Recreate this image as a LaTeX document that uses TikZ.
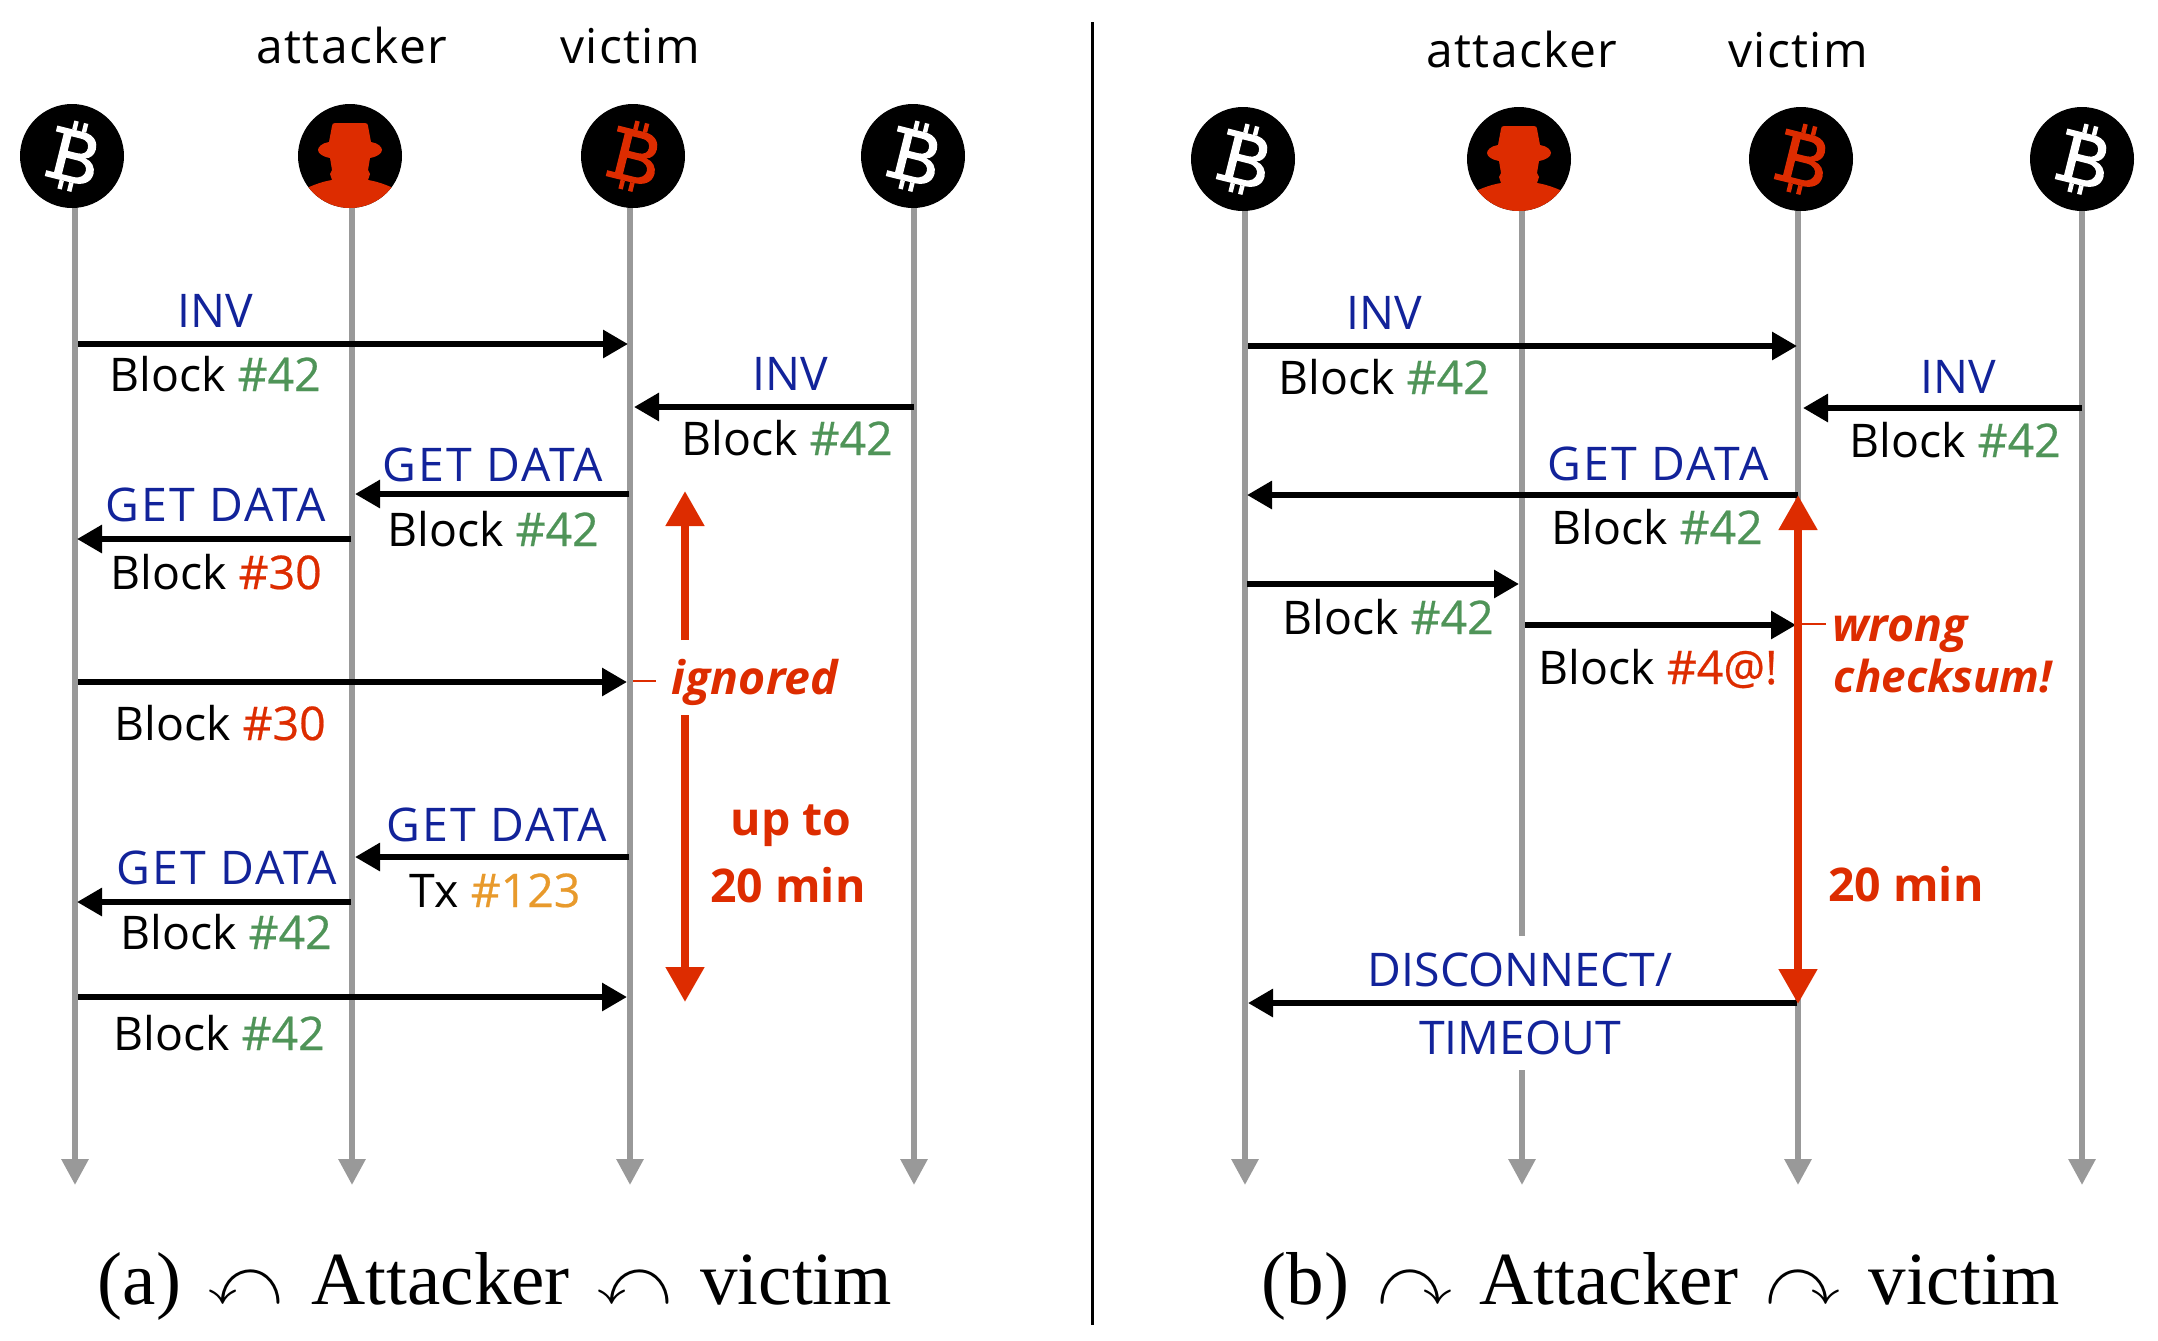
\documentclass[tikz,border=0pt]{standalone}
\usepackage{amssymb}
\usepackage{fontspec}
\setmainfont{Open Sans}
\newfontfamily\capfont{Liberation Serif}
\newfontfamily\hashfont[FakeBold=0.5]{Open Sans}
\newfontfamily\widefont[LetterSpace=4.5]{Open Sans}
\newfontfamily\headfont[LetterSpace=3]{Open Sans}
\usetikzlibrary{arrows.meta}
\definecolor{myblue}{HTML}{12239A}
\definecolor{mygreen}{HTML}{4F9458}
\definecolor{myred}{HTML}{DD2C00}
\definecolor{myorange}{HTML}{E89A2C}
\definecolor{mygray}{HTML}{999999}
\newcommand{\bl}[1]{\textcolor{myblue}{#1}}
\newcommand{\gd}{\textcolor{myblue}{\widefont GET DATA}}
\newcommand{\gr}[1]{\textcolor{mygreen}{\hashfont #1}}
\newcommand{\rd}[1]{\textcolor{myred}{\hashfont #1}}
\newcommand{\og}[1]{\textcolor{myorange}{\hashfont #1}}
\newcommand{\gapb}{\hspace{4.5pt}}
\tikzset{
  x=0.5pt,y=-0.5pt,
  lbl/.style={inner sep=0pt,font=\fontsize{23.2}{26}\selectfont,text height=16pt,text depth=0pt},
  headlbl/.style={lbl,font=\fontsize{24}{26}\selectfont\headfont},
  redlbl/.style={lbl,text=myred,font=\fontsize{23.2}{26}\selectfont\bfseries},
  redit/.style={lbl,text=myred,font=\fontsize{23.2}{26}\selectfont\bfseries\itshape},
  captext/.style={inner sep=0pt,font=\fontsize{37.5}{42}\selectfont\capfont},
  peer/.style={circle,fill=black,minimum size=52pt,inner sep=0pt},
  life/.style={mygray,line width=3pt,-{Triangle[length=13pt,width=13pt]}},
  lifeplain/.style={mygray,line width=3pt},
  msg/.style={black,line width=3pt,-{Triangle[length=12.5pt,width=13.5pt]}},
  spanarrow/.style={myred,line width=4pt,-{Triangle[length=17.5pt,width=18.5pt]}},
  ticklet/.style={myred,line width=1pt},
  pics/btc/.style={code={
    \begin{scope}[xscale=0.9]
    \fill[#1,even odd rule]
      (-24,-26) -- (6,-26) .. controls (20,-26) and (24,-18) .. (24,-12)
      .. controls (24,-6) and (20,-2) .. (15,-1)
      .. controls (23,0) and (28,6) .. (28,12)
      .. controls (28,21) and (20,26) .. (8,26)
      -- (-24,26) -- (-24,20) -- (-15,20) -- (-15,-20) -- (-24,-20) -- cycle
      (-6,-19) -- (5,-19) .. controls (13,-19) and (15,-15) .. (15,-11)
      .. controls (15,-7) and (12,-4) .. (5,-4) -- (-6,-4) -- cycle
      (-6,3) -- (7,3) .. controls (16,3) and (19,8) .. (19,11)
      .. controls (19,16) and (15,20) .. (7,20) -- (-6,20) -- cycle;
    \fill[#1] (-7,-35) rectangle (-2,-26) (4,-35) rectangle (9,-26)
              (-7,26) rectangle (-2,35) (4,26) rectangle (9,35);
    \end{scope}
  }},
  pics/spy/.style={code={
    \begin{scope}
      \clip (0,0) circle[radius=52];
      \fill[myred] (-15,-33) -- (15,-33) .. controls (17,-33) and (18,-32) .. (18,-30)
        -- (21,-14) .. controls (28,-13) and (32,-9) .. (32,-6)
        .. controls (32,-2) and (26,1) .. (20,2) -- (18,14) -- (20,18) -- (18,24)
        .. controls (30,26) and (40,30) .. (60,40) -- (60,60) -- (-60,60) -- (-60,40)
        .. controls (-40,30) and (-30,26) .. (-18,24) -- (-20,18) -- (-18,14) -- (-20,2)
        .. controls (-26,1) and (-32,-2) .. (-32,-6)
        .. controls (-32,-9) and (-28,-13) .. (-21,-14) -- (-18,-30)
        .. controls (-18,-32) and (-17,-33) .. (-15,-33) -- cycle;
    \end{scope}
  }},
}
\begin{document}
\begin{tikzpicture}
\useasboundingbox (0,0) rectangle (2158,1340);
% ---- divider
\coordinate (divt) at (1092,22);
\coordinate (divb) at (1092,1325);
\draw[black,line width=1.5pt] (divt) -- (divb);
% ---- lifeline ends
\foreach \n/\x in {la/75,lb/352,lc/630,ld/914,ra/1245,rb/1522,rc/1798,rd/2082}{
  \coordinate (\n top) at (\x,156);
  \coordinate (\n end) at (\x,1185);
}
\coordinate (rbbreak1) at (1522,936);
\coordinate (rbbreak2) at (1522,1070);
\draw[life] (latop) -- (laend);
\draw[life] (lbtop) -- (lbend);
\draw[life] (lctop) -- (lcend);
\draw[life] (ldtop) -- (ldend);
\draw[life] (ratop) -- (raend);
\draw[lifeplain] (rbtop) -- (rbbreak1);
\draw[life] (rbbreak2) -- (rbend);
\draw[life] (rctop) -- (rcend);
\draw[life] (rdtop) -- (rdend);
% ---- peers
\node[peer] (pa) at (72,156) {};
\node[peer] (pb) at (350,156) {};
\node[peer] (pc) at (633,156) {};
\node[peer] (pd) at (913,156) {};
\node[peer] (qa) at (1243,159) {};
\node[peer] (qb) at (1519,159) {};
\node[peer] (qc) at (1801,159) {};
\node[peer] (qd) at (2082,159) {};
\pic[rotate=-14] at (pa) {btc=white};
\pic[rotate=-14] at (pc) {btc=myred};
\pic[rotate=-14] at (pd) {btc=white};
\pic[rotate=-14] at (qa) {btc=white};
\pic[rotate=-14] at (qc) {btc=myred};
\pic[rotate=-14] at (qd) {btc=white};
\pic at (pb) {spy};
\pic at (qb) {spy};
% ---- left panel messages
\coordinate (m1s) at (78,344);   \coordinate (m1e) at (628,344);
\coordinate (m2s) at (914,407);  \coordinate (m2e) at (634,407);
\coordinate (m3s) at (629,494);  \coordinate (m3e) at (355,494);
\coordinate (m4s) at (351,539);  \coordinate (m4e) at (77,539);
\coordinate (m5s) at (78,682);   \coordinate (m5e) at (627,682);
\coordinate (m6s) at (629,857);  \coordinate (m6e) at (355,857);
\coordinate (m7s) at (351,902);  \coordinate (m7e) at (77,902);
\coordinate (m8s) at (78,997);   \coordinate (m8e) at (627,997);
\foreach \i in {1,...,8}{\draw[msg] (m\i s) -- (m\i e);}
% ---- right panel messages
\coordinate (n1s) at (1248,346); \coordinate (n1e) at (1797,346);
\coordinate (n2s) at (2082,408); \coordinate (n2e) at (1803,408);
\coordinate (n3s) at (1798,495); \coordinate (n3e) at (1247,495);
\coordinate (n4s) at (1247,584); \coordinate (n4e) at (1519,584);
\coordinate (n5s) at (1525,625); \coordinate (n5e) at (1796,625);
\coordinate (n6s) at (1797,1003);\coordinate (n6e) at (1248,1003);
\foreach \i in {1,...,6}{\draw[msg] (n\i s) -- (n\i e);}
% ---- red spans
\coordinate (s1a) at (685,640);  \coordinate (s1t) at (685,491);
\coordinate (s1b) at (685,715);  \coordinate (s1d) at (685,1002);
\draw[spanarrow] (s1a) -- (s1t);
\draw[spanarrow] (s1b) -- (s1d);
\coordinate (s2m) at (1798,750); \coordinate (s2t) at (1798,495); \coordinate (s2d) at (1798,1004);
\draw[spanarrow] (s2m) -- (s2t);
\draw[spanarrow] (s2m) -- (s2d);
\coordinate (t1a) at (633,681);  \coordinate (t1b) at (656,681);
\draw[ticklet] (t1a) -- (t1b);
\coordinate (t2a) at (1798,624); \coordinate (t2b) at (1826,624);
\draw[ticklet] (t2a) -- (t2b);
% ---- left labels
\node[headlbl] (h1) at (352,47) {attacker};
\node[headlbl] (h2) at (630,47) {victim};
\node[lbl] (l1) at (215,311) {\bl{INV}};
\node[lbl] (l2) at (215,375) {Block \gr{\#42}};
\node[lbl] (l3) at (790,374) {\bl{INV}};
\node[lbl] (l4) at (787,439) {Block \gr{\#42}};
\node[lbl] (l5) at (493,465) {\gd};
\node[lbl] (l6) at (493,530) {Block \gr{\#42}};
\node[lbl] (l7) at (216,505) {\gd};
\node[lbl] (l8) at (216,573) {Block \rd{\#30}};
\node[lbl] (l9) at (220,724) {Block \rd{\#30}};
\node[lbl] (l10) at (497,825) {\gd};
\node[lbl] (l11) at (495,891) {Tx \og{\#123}};
\node[lbl] (l12) at (227,868) {\gd};
\node[lbl] (l13) at (226,933) {Block \gr{\#42}};
\node[lbl] (l14) at (219,1034) {Block \gr{\#42}};
\node[redit] (l15) at (755,678) {ignored};
\node[redlbl] (l16) at (791,819) {up to};
\node[redlbl] (l17) at (788,886) {20 min};
% ---- right labels
\node[headlbl] (h3) at (1522,51) {attacker};
\node[headlbl] (h4) at (1798,51) {victim};
\node[lbl] (r1) at (1384,313) {\bl{INV}};
\node[lbl] (r2) at (1384,378) {Block \gr{\#42}};
\node[lbl] (r3) at (1958,377) {\bl{INV}};
\node[lbl] (r4) at (1955,441) {Block \gr{\#42}};
\node[lbl] (r5) at (1658,464) {\gd};
\node[lbl] (r6) at (1657,528) {Block \gr{\#42}};
\node[lbl] (r7) at (1388,618) {Block \gr{\#42}};
\node[lbl] (r8) at (1658,668) {Block \rd{\#4@!}};
\node[redit] (r9) at (1900,625) {wrong};
\node[redit,font=\fontsize{22}{26}\selectfont\bfseries\itshape] (r10) at (1943,676) {checksum!};
\node[redlbl] (r11) at (1906,885) {20 min};
\node[lbl] (r12) at (1520,970) {\bl{DISCONNECT/}};
\node[lbl] (r13) at (1520,1038) {\bl{TIMEOUT}};
% ---- captions
\node[captext] (c1) at (495,1286) {(a)\gapb{} $\curvearrowleft$\gapb{} Attacker\gapb{} $\curvearrowleft$\gapb{} victim};
\node[captext] (c2) at (1661,1286) {(b)\gapb{} $\curvearrowright$\gapb{} Attacker\gapb{} $\curvearrowright$\gapb{} victim};
\end{tikzpicture}
\end{document}
